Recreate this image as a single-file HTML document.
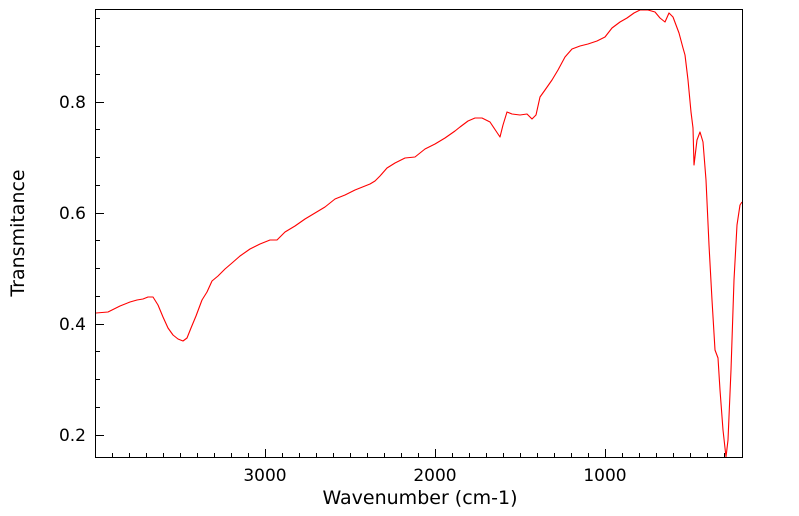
<!DOCTYPE html>
<html><head><style>body{margin:0;background:#fff}svg{display:block}</style></head><body>
<svg width="799" height="516" xmlns="http://www.w3.org/2000/svg" font-family="DejaVu Sans, Liberation Sans, sans-serif">
<rect width="799" height="516" fill="#fff"/>
<polyline fill="none" stroke="#ff0000" stroke-width="1.1" stroke-linejoin="round" points="96,313 108,312 120,306 130,302 137,300 143,299 148,297 153,297 158,305 163,317 168,328 173,335 178,339 183,341 187,338 191,328 196,316 202,300 207,292 212,281 218,276 225,269 232,263 240,256 250,249 260,244 270,240 277,240 285,232 295,226 305,219 315,213 325,207 335,199 345,195 355,190 365,186 370,184 375,181 380,176 387,168 395,163 405,158 415,157 425,149 435,144 445,138 455,131 460,127 468,121 475,118 482,118 490,122 496,131 500,137 503,125 507,112 512,114 520,115 527,114 532,119 536,115 540,97 545,90 552,80 558,70 565,57 572,49 580,46 588,44 597,41 605,37 612,28 620,22 627,18 634,13 640,10 648,10 655,12 660,18 665,22 669,13 673,17 679,33 683,48 685,55 688,80 691,112 693,128 694,165 697,140 700,132 703,142 706,180 709,245 712,300 715,350 718,358 720,390 723,430 726,457 728,440 731,370 734,280 737,225 740,205 742,202"/>
<rect x="95.5" y="9.5" width="647" height="448" fill="none" stroke="#000" stroke-width="1"/>
<path stroke="#000" stroke-width="1" fill="none" d="
M112.5,457v-4 M129.5,457v-4 M146.5,457v-4 M163.5,457v-4 M180.5,457v-4 M197.5,457v-4 M214.5,457v-4 M231.5,457v-4 M248.5,457v-4 M265.5,457v-8
M282.5,457v-4 M299.5,457v-4 M316.5,457v-4 M333.5,457v-4 M350.5,457v-4 M367.5,457v-4 M384.5,457v-4 M401.5,457v-4 M418.5,457v-4 M435.5,457v-8
M452.5,457v-4 M469.5,457v-4 M486.5,457v-4 M503.5,457v-4 M520.5,457v-4 M537.5,457v-4 M554.5,457v-4 M571.5,457v-4 M588.5,457v-4 M605.5,457v-8
M622.5,457v-4 M639.5,457v-4 M656.5,457v-4 M673.5,457v-4 M690.5,457v-4 M707.5,457v-4 M724.5,457v-4
M96,435.5h8 M96,407.5h4 M96,379.5h4 M96,351.5h4 M96,324.5h8 M96,296.5h4 M96,268.5h4 M96,240.5h4 M96,213.5h8 M96,185.5h4 M96,157.5h4 M96,129.5h4 M96,102.5h8 M96,74.5h4 M96,46.5h4 M96,18.5h4"/>
<g font-size="17" fill="#000">
<text x="86" y="108" text-anchor="end">0.8</text>
<text x="86" y="219" text-anchor="end">0.6</text>
<text x="86" y="330" text-anchor="end">0.4</text>
<text x="86" y="441" text-anchor="end">0.2</text>
<text x="265" y="481" text-anchor="middle">3000</text>
<text x="435" y="481" text-anchor="middle">2000</text>
<text x="605" y="481" text-anchor="middle">1000</text>
<text x="420" y="504" text-anchor="middle" font-size="19">Wavenumber (cm-1)</text>
<text transform="translate(24,233) rotate(-90)" text-anchor="middle" font-size="19">Transmitance</text>
</g>
</svg>
</body></html>
